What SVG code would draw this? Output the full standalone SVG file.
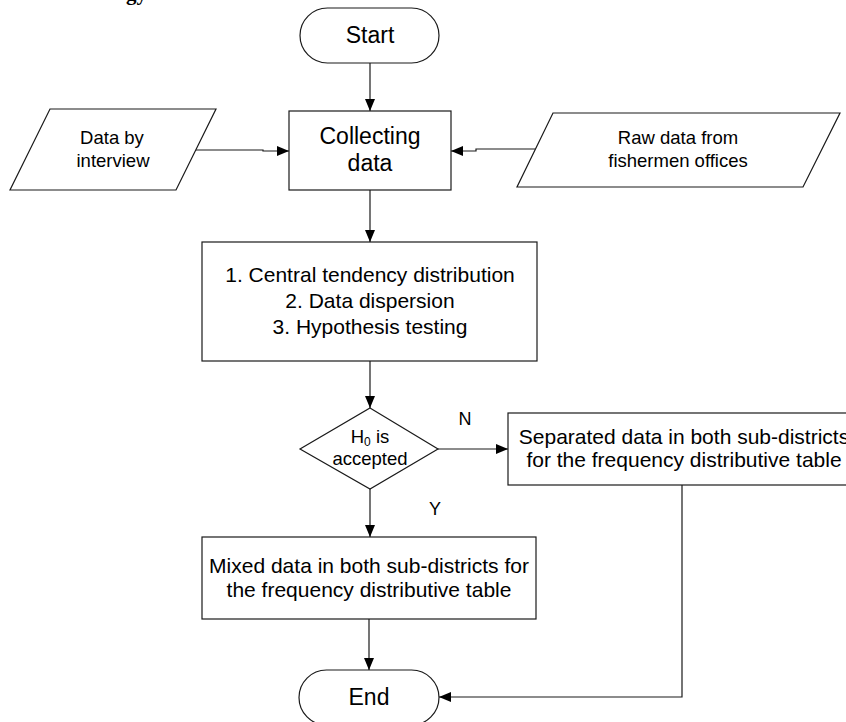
<svg xmlns="http://www.w3.org/2000/svg" width="846" height="722" viewBox="0 0 846 722">
<style>
.s{fill:#fff;stroke:#1a1a1a;stroke-width:1.2}
.c{fill:none;stroke:#1a1a1a;stroke-width:1.2}
text{font-family:"Liberation Sans",Arial,sans-serif;fill:#000;text-anchor:middle}
.big{font-size:23px}
.md{font-size:21px}
.sm{font-size:18.5px}
.lbl{font-size:18px}
</style>
<defs>
<marker id="ah" markerWidth="12" markerHeight="10" refX="12" refY="5" orient="auto" markerUnits="userSpaceOnUse">
<path d="M0,0 L12,5 L0,10 Z" fill="#000"/>
</marker>
</defs>
<rect width="846" height="722" fill="#fff"/>
<text x="147" y="-0.5" style="font-family:'Liberation Serif','Times New Roman',serif;font-weight:bold;font-size:21px;text-anchor:end">gy</text>
<g id="connectors">
<line class="c" x1="370" y1="63" x2="370" y2="111" marker-end="url(#ah)"/>
<polyline class="c" points="196,150 263,150 263,151 289,151" marker-end="url(#ah)"/>
<polyline class="c" points="535,149 476,149 476,151 451,151" marker-end="url(#ah)"/>
<line class="c" x1="370" y1="190" x2="370" y2="242" marker-end="url(#ah)"/>
<line class="c" x1="370" y1="361" x2="370" y2="408" marker-end="url(#ah)"/>
<line class="c" x1="438" y1="449" x2="508" y2="449" marker-end="url(#ah)"/>
<line class="c" x1="370" y1="489" x2="370" y2="537" marker-end="url(#ah)"/>
<line class="c" x1="369" y1="619" x2="369" y2="670" marker-end="url(#ah)"/>
<polyline class="c" points="682,485 682,697 439,697" marker-end="url(#ah)"/>
<text class="lbl" x="465" y="425">N</text>
<text class="lbl" x="435" y="515">Y</text>
</g>
<g id="start">
<rect class="s" x="300" y="8" width="139" height="55" rx="27.5" ry="27.5"/>
<text class="big" x="370" y="43">Start</text>
</g>
<g id="interview">
<polygon class="s" points="50,109 216,109 176,190 10,190"/>
<text class="sm" x="112" y="144">Data by</text>
<text class="sm" x="113" y="167">interview</text>
</g>
<g id="collecting">
<rect class="s" x="289" y="111" width="162" height="79"/>
<text class="big" x="370" y="144">Collecting</text>
<text class="big" x="370" y="171">data</text>
</g>
<g id="rawdata">
<polygon class="s" points="553,113 840,113 803,187 517,187"/>
<text class="sm" x="678" y="144">Raw data from</text>
<text class="sm" x="678" y="167">fishermen offices</text>
</g>
<g id="analysis">
<rect class="s" x="202" y="242" width="335" height="119"/>
<text class="md" x="370" y="282">1. Central tendency distribution</text>
<text class="md" x="370" y="308">2. Data dispersion</text>
<text class="md" x="370" y="334">3. Hypothesis testing</text>
</g>
<g id="decision">
<polygon class="s" points="370,408 438,449 370,489 300,449"/>
<text class="sm" x="370" y="443">H<tspan font-size="12" dy="3">0</tspan><tspan dy="-3"> is</tspan></text>
<text class="sm" x="370" y="465">accepted</text>
</g>
<g id="separated">
<rect class="s" x="508" y="413" width="352" height="72"/>
<text class="md" x="684" y="444">Separated data in both sub-districts</text>
<text class="md" x="684" y="467">for the frequency distributive table</text>
</g>
<g id="mixed">
<rect class="s" x="202" y="537" width="334" height="82"/>
<text class="md" x="369" y="573">Mixed data in both sub-districts for</text>
<text class="md" x="369" y="597">the frequency distributive table</text>
</g>
<g id="end">
<rect class="s" x="299" y="670" width="140" height="55" rx="27.5" ry="27.5"/>
<text class="big" x="369" y="705">End</text>
</g>
</svg>
